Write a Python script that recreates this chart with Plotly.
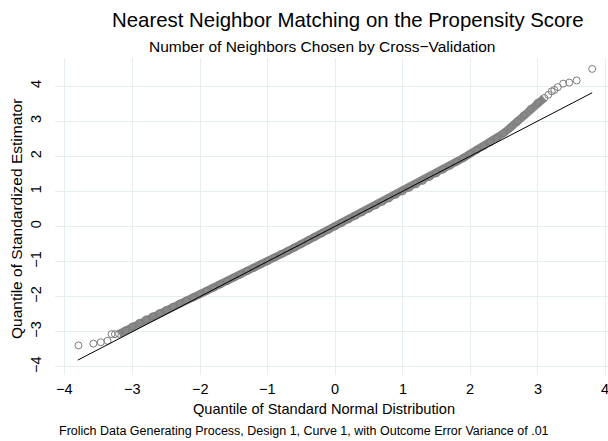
import plotly.graph_objects as go

# Theoretical normal quantiles (x) and sample quantiles of standardized estimator (y)
band_x = [-3.2, -3.1, -3.0, -2.9, -2.8, -2.7, -2.6, -2.5, -2.4, -2.3, -2.2, -2.1, -2.0,
          -1.9, -1.8, -1.7, -1.6, -1.5, -1.4, -1.3, -1.2, -1.1, -1.0, -0.9, -0.8, -0.7,
          -0.6, -0.5, -0.4, -0.3, -0.2, -0.1, 0.0, 0.1, 0.2, 0.3, 0.4, 0.5, 0.6, 0.7, 0.8,
          0.9, 1.0, 1.1, 1.2, 1.3, 1.4, 1.5, 1.6, 1.7, 1.8, 1.9, 2.0, 2.1, 2.2, 2.3, 2.4,
          2.5, 2.6, 2.7, 2.8, 2.9, 3.0, 3.1]
band_y = [-3.06, -2.96, -2.85, -2.75, -2.65, -2.56, -2.47, -2.38, -2.29, -2.20, -2.11, -2.02, -1.93,
          -1.84, -1.75, -1.65, -1.56, -1.46, -1.37, -1.27, -1.18, -1.08, -0.99, -0.89, -0.79, -0.70,
          -0.60, -0.50, -0.40, -0.30, -0.20, -0.10, 0.00, 0.10, 0.20, 0.30, 0.40, 0.50, 0.60, 0.70, 0.80,
          0.90, 1.00, 1.10, 1.20, 1.30, 1.41, 1.51, 1.62, 1.73, 1.84, 1.95, 2.07, 2.18, 2.29, 2.40, 2.52,
          2.66, 2.82, 2.99, 3.17, 3.35, 3.52, 3.66]

lower_tail_x = [-3.80, -3.58, -3.47, -3.37, -3.31, -3.26]
lower_tail_y = [-3.39, -3.34, -3.30, -3.26, -3.07, -3.07]

upper_tail_x = [3.16, 3.21, 3.25, 3.30, 3.38, 3.47, 3.58, 3.81]
upper_tail_y = [3.75, 3.85, 3.89, 3.97, 4.07, 4.10, 4.16, 4.49]

ref_x = [-3.81, 3.81]
ref_y = [-3.81, 3.81]

x_ticks = [-4, -3, -2, -1, 0, 1, 2, 3, 4]
x_tick_text = ["\u22124", "\u22123", "\u22122", "\u22121", "0", "1", "2", "3", "4"]
y_ticks = [-4, -3, -2, -1, 0, 1, 2, 3, 4]

title = "Nearest Neighbor Matching on the Propensity Score"
subtitle = "Number of Neighbors Chosen by Cross\u2212Validation"
x_title = "Quantile of Standard Normal Distribution"
y_title = "Quantile of Standardized Estimator"
caption = "Frolich Data Generating Process, Design 1, Curve 1, with Outcome Error Variance of .01"

W, H = 608, 441
L, R, T, B = 55, 0, 58, 66
FONT = "Liberation Sans, Arial, sans-serif"
GRID = "#e6eff0"
PT = "#7c7c7c"

def py(p):
    # pixel y from top -> paper fraction
    return (H - B - p) / (H - T - B)

def px(p):
    return (p - L) / (W - L - R)

fig = go.Figure()
fig.add_trace(go.Scatter(x=band_x, y=band_y, mode="lines+markers",
                         line=dict(color="#888888", width=8),
                         marker=dict(symbol="circle-open", size=7, color=PT, line=dict(width=1)),
                         hoverinfo="skip", showlegend=False))
fig.add_trace(go.Scatter(x=lower_tail_x + upper_tail_x, y=lower_tail_y + upper_tail_y, mode="markers",
                         marker=dict(symbol="circle-open", size=7, color=PT, line=dict(width=1)),
                         showlegend=False))
fig.add_trace(go.Scatter(x=ref_x, y=ref_y, mode="lines",
                         line=dict(color="black", width=1), showlegend=False))

# tick labels on x drawn as text at each tick value (the last one sits at the page edge)
tick_annos = [dict(text=t, x=v, xref="x", y=py(389), yref="paper", showarrow=False,
                   xanchor="center", yanchor="middle", font=dict(size=14.5))
              for v, t in zip(x_ticks, x_tick_text)]

fig.update_layout(
    width=W, height=H,
    margin=dict(l=L, r=R, t=T, b=B, pad=0, autoexpand=False),
    paper_bgcolor="white", plot_bgcolor="white",
    font=dict(family=FONT, color="black", size=13),
    xaxis=dict(range=[-4.148, 4.044], tickvals=x_ticks, showticklabels=False,
               showgrid=True, gridcolor=GRID, gridwidth=1,
               zeroline=False, showline=False, ticks="", automargin=False),
    yaxis=dict(range=[-4.234, 4.80], tickvals=y_ticks, showgrid=True, gridcolor=GRID, gridwidth=1,
               zeroline=False, showline=False, ticks="", tickangle=-90, ticklabelstandoff=10,
               automargin=False, tickfont=dict(size=14.5)),
    annotations=tick_annos + [
        dict(text=title, x=px(348), y=py(20), xref="paper", yref="paper", showarrow=False,
             xanchor="center", yanchor="middle", font=dict(size=20.4)),
        dict(text=subtitle, x=px(322), y=py(46), xref="paper", yref="paper", showarrow=False,
             xanchor="center", yanchor="middle", font=dict(size=15.5)),
        dict(text=x_title, x=px(324), y=py(409), xref="paper", yref="paper", showarrow=False,
             xanchor="center", yanchor="middle", font=dict(size=14.6)),
        dict(text=caption, x=px(304), y=py(431), xref="paper", yref="paper", showarrow=False,
             xanchor="center", yanchor="middle", font=dict(size=12.5)),
        dict(text=y_title, x=px(17), y=py(219), xref="paper", yref="paper", showarrow=False,
             textangle=-90, xanchor="center", yanchor="middle", font=dict(size=15.5)),
    ],
)

fig.write_html("out.html", config={"displayModeBar": False},
               post_script=("document.body.style.margin='0';"
                            "document.body.style.overflow='hidden';"
                            "document.documentElement.style.overflow='hidden';"))
